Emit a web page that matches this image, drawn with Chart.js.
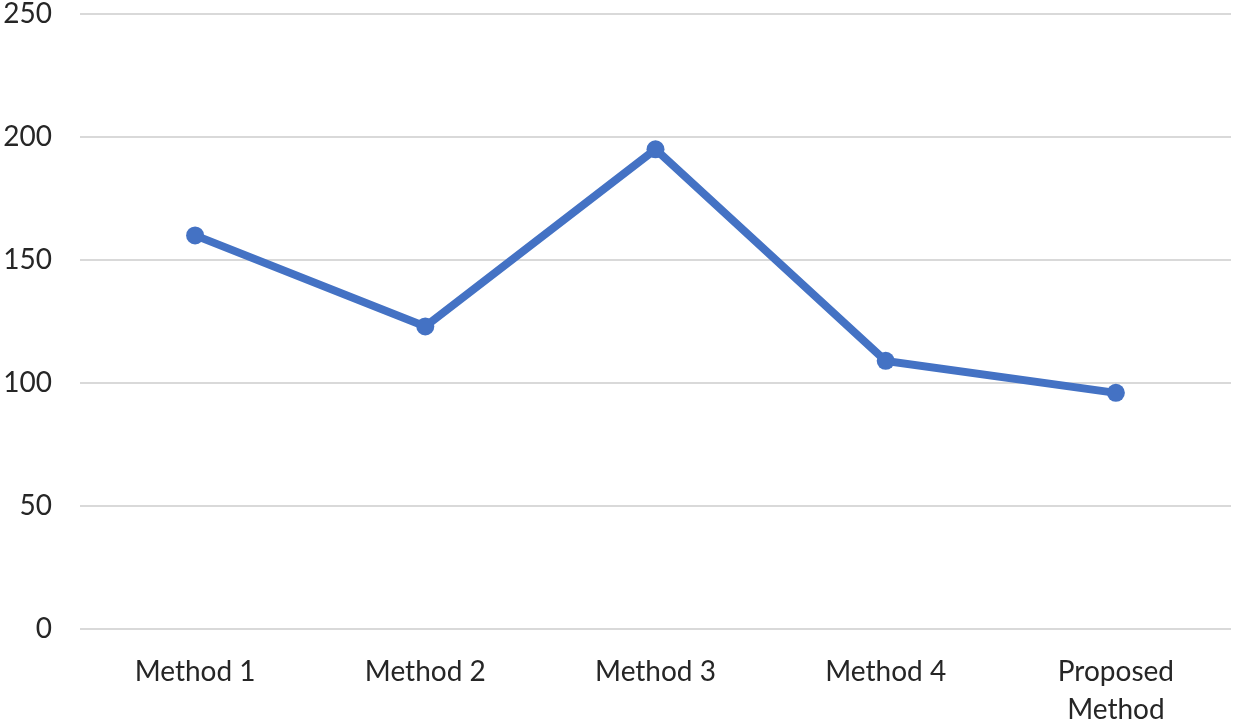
<!DOCTYPE html>
<html>
<head>
<meta charset="utf-8">
<script src="https://cdn.jsdelivr.net/npm/chart.js@4/dist/chart.umd.min.js"></script>
<style>
  html, body { margin: 0; padding: 0; background: #fff; }
  #wrap { width: 1240px; height: 725px; }
</style>
</head>
<body>
<div id="wrap"><canvas id="chart" width="1240" height="725"></canvas></div>
<script>
// ── Data ─────────────────────────────────────────────
const categories = ['Method 1', 'Method 2', 'Method 3', 'Method 4', ['Proposed', 'Method']];
const values     = [160, 123, 195, 109, 96];
const yTicks     = [0, 50, 100, 150, 200, 250];

Chart.defaults.font.family = "Lato, 'Open Sans', sans-serif";
Chart.defaults.font.size   = 28;
Chart.defaults.color       = '#262626';

new Chart(document.getElementById('chart'), {
  type: 'line',
  data: {
    labels: categories,
    datasets: [{
      data: values,
      borderColor: '#4472c4',
      backgroundColor: '#4472c4',
      borderWidth: 8,
      pointRadius: 9,
      pointHoverRadius: 9,
      pointBorderWidth: 0,
      tension: 0,
    }],
  },
  options: {
    responsive: false,
    animation: false,
    layout: { padding: { top: 14, right: 0, left: 0, bottom: 0 } },
    plugins: { legend: { display: false }, tooltip: { enabled: false } },
    scales: {
      x: {
        offset: true,
        grid:   { display: false, drawTicks: false },
        border: { display: false },
        ticks:  { padding: 24, maxRotation: 0, autoSkip: false, font: { lineHeight: 1.35 } },
        afterFit: s => { s.height = 96; s.paddingLeft = 0; s.paddingRight = 0; },
      },
      y: {
        min: 0,
        max: 250,
        afterBuildTicks: s => { s.ticks = yTicks.map(v => ({ value: v })); },
        grid:   { color: '#d9d9d9', lineWidth: 2, drawTicks: false },
        border: { display: false },
        ticks:  { padding: 28 },
        afterFit: s => { s.width = 80; s.paddingTop = 0; s.paddingBottom = 0; },
      },
    },
  },
});
</script>
</body>
</html>
